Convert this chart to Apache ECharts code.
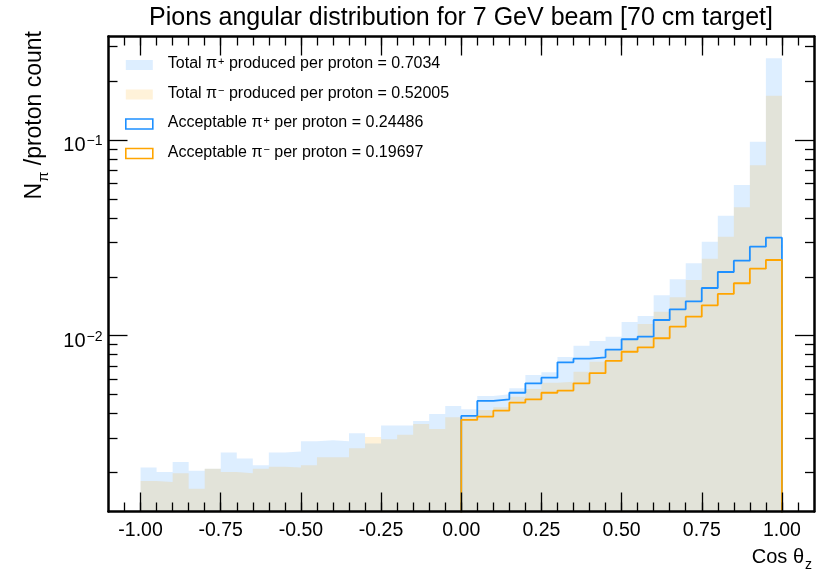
<!DOCTYPE html>
<html>
<head>
<meta charset="utf-8">
<script src="https://cdn.jsdelivr.net/npm/echarts@6/dist/echarts.min.js"></script>
<style>
html,body{margin:0;padding:0;background:#fff;}
#chart{width:818px;height:574px;}
</style>
</head>
<body>
<div id="chart"></div>
<script>
// ---------------- data ----------------
// 40 bins of cos(theta_z), width 0.05, from -1 to 1 (bin edges)
const binEdges = Array.from({length: 41}, (_, i) => +(-1 + 0.05 * i).toFixed(2));

// Total pi+ produced per proton (per bin)
const totalPiPlus = [
  0.00212, 0.00201, 0.00226, 0.00204, 0.00209, 0.00253, 0.00236, 0.00218, 0.00253, 0.00256,
  0.00289, 0.00292, 0.00289, 0.00317, 0.00281, 0.00348, 0.00348, 0.00366, 0.00398, 0.00437,
  0.00421, 0.00492, 0.00502, 0.00539, 0.00630, 0.00650, 0.00778, 0.00889, 0.00940, 0.00988,
  0.01175, 0.01261, 0.01608, 0.01942, 0.02344, 0.03021, 0.04103, 0.05888, 0.09802, 0.2616
];
// Total pi- produced per proton (per bin)
const totalPiMinus = [
  0.00181, 0.00179, 0.00198, 0.00165, 0.00209, 0.00201, 0.00198, 0.00209, 0.00214, 0.00212,
  0.00218, 0.00239, 0.00239, 0.00266, 0.00304, 0.00296, 0.00312, 0.00354, 0.00334, 0.00383,
  0.00386, 0.00417, 0.00431, 0.00488, 0.00534, 0.00575, 0.00582, 0.00655, 0.00736, 0.00855,
  0.00959, 0.01148, 0.01326, 0.01571, 0.01927, 0.02475, 0.03206, 0.04530, 0.07425, 0.1684
];
// Acceptable pions: only bins from cos = 0 to 1
const acceptStartBin = 20;
const acceptPiPlus = [
  0.00389, 0.00464, 0.00473, 0.00511, 0.00571, 0.00610, 0.00731, 0.00763, 0.00775, 0.00848,
  0.00959, 0.00988, 0.01203, 0.01364, 0.01499, 0.01753, 0.02116, 0.02417, 0.02850, 0.03168
];
const acceptPiMinus = [
  0.00371, 0.00386, 0.00414, 0.00455, 0.00473, 0.00511, 0.00524, 0.00571, 0.00643, 0.00743,
  0.00828, 0.00872, 0.00970, 0.01112, 0.01251, 0.01430, 0.01634, 0.01853, 0.02200, 0.02437
];

const seriesNames = [
  'Total π⁺ produced per proton = 0.7034',
  'Total π⁻ produced per proton = 0.52005',
  'Acceptable π⁺ per proton = 0.24486',
  'Acceptable π⁻ per proton = 0.19697'
];

// tick values
const xMajorTicks = [-1, -0.75, -0.5, -0.25, 0, 0.25, 0.5, 0.75, 1];
const xMinorTicks = Array.from({length: 43}, (_, i) => +(-1.05 + 0.05 * i).toFixed(2));
const yMajorTicks = [0.01, 0.1];
const yMinorTicks = [0.002,0.003,0.004,0.005,0.006,0.007,0.008,0.009,
                     0.02,0.03,0.04,0.05,0.06,0.07,0.08,0.09,0.2,0.3];

// ---------------- layout / style ----------------
const FONT = "'Liberation Sans', Arimo, 'DejaVu Sans', sans-serif";
const X_MIN = -1.1, X_MAX = 1.1;
const Y_MIN = 0.0012636, Y_MAX = 0.3379;
const FLOOR = Y_MIN / 10;
const BLUE = '#1e90ff', ORANGE = '#ffa500';
const BLUE_FILL = 'rgba(30,144,255,0.15)', ORANGE_FILL = 'rgba(255,165,0,0.15)';

function histPoints(edges, vals) {
  const pts = vals.map((v, i) => [edges[i], v]);
  pts.push([edges[vals.length], vals[vals.length - 1]]);
  return pts;
}
function outlinePoints(edges, vals) {
  const pts = histPoints(edges, vals);
  return [[edges[0], FLOOR]].concat(pts, [[edges[vals.length], FLOOR]]);
}
const acceptEdges = binEdges.slice(acceptStartBin);

const tickLine = {color: '#000', width: 1.3};
const frameLine = {color: '#000', width: 2.5};

function xAxisDef(pos, major) {
  return {
    type: 'value', position: pos, min: X_MIN, max: X_MAX, z: 10,
    axisLine: {show: major, onZero: false, lineStyle: frameLine},
    axisTick: {show: true, inside: true, length: major ? 19 : 9,
               customValues: major ? xMajorTicks : xMinorTicks, lineStyle: tickLine},
    axisLabel: (major && pos === 'bottom') ? {
      show: true, customValues: xMajorTicks, margin: 9,
      formatter: v => Number(v).toFixed(2),
      fontSize: 19.5, color: '#000', fontFamily: FONT
    } : {show: false},
    splitLine: {show: false}
  };
}
function yAxisDef(pos, major) {
  return {
    type: 'log', logBase: 10, position: pos, min: Y_MIN, max: Y_MAX, z: 10,
    axisLine: {show: major, onZero: false, lineStyle: frameLine},
    axisTick: {show: true, inside: true, length: major ? 19 : 9,
               customValues: major ? yMajorTicks : yMinorTicks, lineStyle: tickLine},
    axisLabel: (major && pos === 'left') ? {
      show: true, customValues: yMajorTicks, margin: 6,
      formatter: v => '{b|10}{s|−' + Math.round(-Math.log10(v)) + '}',
      rich: {
        b: {fontSize: 20, lineHeight: 24, verticalAlign: 'top', color: '#000', fontFamily: FONT, padding: [8,0,0,0]},
        s: {fontSize: 14, lineHeight: 14, verticalAlign: 'top', color: '#000', fontFamily: FONT, padding: [6,0,0,1]}
      }
    } : {show: false},
    splitLine: {show: false}
  };
}

const legendRich = {
  t: {fontSize: 16, lineHeight: 18, verticalAlign: 'top', color: '#000', fontFamily: FONT},
  sup: {fontSize: 11, lineHeight: 11, verticalAlign: 'top', color: '#000', fontFamily: FONT, padding: [0,0,0,1]}
};
function legendFormatter(name) {
  const n = name.replace('π⁺', 'π}{sup|+}{t|').replace('π⁻', 'π}{sup|−}{t|');
  return '{t|' + n + '}';
}

const option = {
  animation: false,
  backgroundColor: '#fff',
  title: {
    text: 'Pions angular distribution for 7 GeV beam [70 cm target]',
    left: 461, top: 6, textAlign: 'center', padding: 0,
    textStyle: {fontSize: 25, fontWeight: 'normal', color: '#000', fontFamily: FONT}
  },
  grid: {left: 108.5, right: 4, top: 36.5, bottom: 62.5, outerBoundsMode: 'none', containLabel: false},
  legend: {
    orient: 'vertical', left: 125, top: 56, padding: 0, itemGap: 13.5,
    itemWidth: 27, itemHeight: 10, selectedMode: false,
    formatter: legendFormatter,
    textStyle: {padding: [0,0,0,10], rich: legendRich},
    data: [
      {name: seriesNames[0], icon: 'rect', itemStyle: {color: BLUE_FILL, borderWidth: 0}},
      {name: seriesNames[1], icon: 'rect', itemStyle: {color: ORANGE_FILL, borderWidth: 0}},
      {name: seriesNames[2], icon: 'rect', itemStyle: {color: '#fff', borderColor: BLUE, borderWidth: 1.6}},
      {name: seriesNames[3], icon: 'rect', itemStyle: {color: '#fff', borderColor: ORANGE, borderWidth: 1.6}}
    ]
  },
  xAxis: [xAxisDef('bottom', true), xAxisDef('bottom', false), xAxisDef('top', true), xAxisDef('top', false)],
  yAxis: [yAxisDef('left', true), yAxisDef('left', false), yAxisDef('right', true), yAxisDef('right', false)],
  graphic: [
    {
      type: 'text', x: 37, y: 31, rotation: Math.PI / 2, z: 20,
      style: {
        text: '{a|N}{b|π}{a| /proton count}',
        align: 'right', textAlign: 'right', verticalAlign: 'middle', textVerticalAlign: 'middle',
        rich: {
          a: {fontSize: 23, lineHeight: 28, verticalAlign: 'top', fill: '#000', color: '#000', fontFamily: FONT},
          b: {fontSize: 15, lineHeight: 15, verticalAlign: 'top', padding: [13,0,0,1], fill: '#000', color: '#000', fontFamily: FONT}
        }
      }
    },
    {
      type: 'text', x: 812, y: 559, z: 20,
      style: {
        text: '{a|Cos θ}{b|z}',
        align: 'right', textAlign: 'right', verticalAlign: 'middle', textVerticalAlign: 'middle',
        rich: {
          a: {fontSize: 20, lineHeight: 24, verticalAlign: 'top', fill: '#000', color: '#000', fontFamily: FONT},
          b: {fontSize: 14, lineHeight: 14, verticalAlign: 'top', padding: [11,0,0,1], fill: '#000', color: '#000', fontFamily: FONT}
        }
      }
    }
  ],
  series: [
    {
      name: seriesNames[0], type: 'line', step: 'end', xAxisIndex: 0, yAxisIndex: 0,
      data: histPoints(binEdges, totalPiPlus), symbol: 'none', showSymbol: false,
      color: BLUE_FILL, lineStyle: {width: 0, opacity: 0},
      areaStyle: {color: BLUE_FILL, opacity: 1, origin: 'start'}, z: 2
    },
    {
      name: seriesNames[1], type: 'line', step: 'end', xAxisIndex: 0, yAxisIndex: 0,
      data: histPoints(binEdges, totalPiMinus), symbol: 'none', showSymbol: false,
      color: ORANGE_FILL, lineStyle: {width: 0, opacity: 0},
      areaStyle: {color: ORANGE_FILL, opacity: 1, origin: 'start'}, z: 3
    },
    {
      name: seriesNames[2], type: 'line', step: 'end', xAxisIndex: 0, yAxisIndex: 0,
      data: outlinePoints(acceptEdges, acceptPiPlus), symbol: 'none', showSymbol: false,
      color: BLUE, lineStyle: {width: 1.8, color: BLUE}, z: 4
    },
    {
      name: seriesNames[3], type: 'line', step: 'end', xAxisIndex: 0, yAxisIndex: 0,
      data: outlinePoints(acceptEdges, acceptPiMinus), symbol: 'none', showSymbol: false,
      color: ORANGE, lineStyle: {width: 1.8, color: ORANGE}, z: 5
    }
  ]
};

const chart = echarts.init(document.getElementById('chart'), null, {renderer: 'canvas'});
chart.setOption(option);
</script>
</body>
</html>
